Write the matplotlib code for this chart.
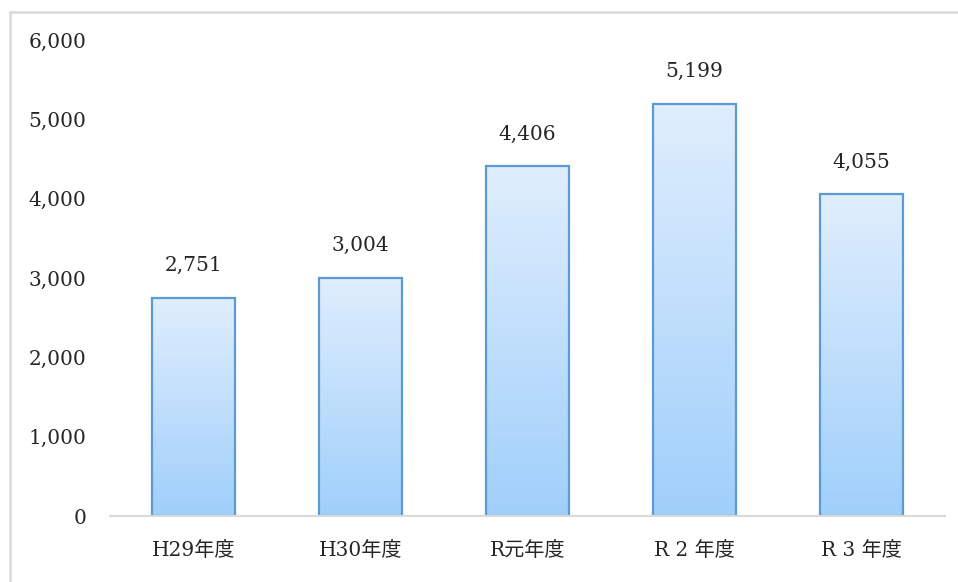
import numpy as np
import matplotlib.pyplot as plt
from matplotlib.patches import Rectangle
from matplotlib.colors import LinearSegmentedColormap

years = ['H29年度', 'H30年度', 'R元年度', 'R 2 年度', 'R 3 年度']
counts = [2751, 3004, 4406, 5199, 4055]
y_ticks = [0, 1000, 2000, 3000, 4000, 5000, 6000]

FONT = ['DejaVu Serif', 'Noto Sans CJK JP', 'DejaVu Sans']
plt.rcParams['font.family'] = FONT

W, H = 958, 582
fig = plt.figure(figsize=(W / 100, H / 100), dpi=100)
ax = fig.add_axes([110 / W, 1 - 516 / H, 835 / W, 476 / H])

# grey frame around the chart area (runs off the right and bottom)
fig.patches.append(Rectangle((10 / W, -0.1), 1.2, 1 - 12 / H + 0.1,
                             transform=fig.transFigure, fill=False,
                             edgecolor='#d9d9d9', linewidth=1.8))

grad = LinearSegmentedColormap.from_list('bar', ['#a0cffb', '#e0eefd'])
g = np.linspace(0, 1, 256).reshape(-1, 1)

x = np.arange(len(years))
bars = ax.bar(x, counts, width=0.5, facecolor='none', edgecolor='#5b9bd5',
              linewidth=1.6, zorder=3)
for b in bars:
    x0, w, h = b.get_x(), b.get_width(), b.get_height()
    im = ax.imshow(g, cmap=grad, origin='lower', aspect='auto',
                   extent=(x0, x0 + w, 0, h), zorder=2)
    im.set_clip_path(b)

for xi, v in zip(x, counts):
    ax.annotate(f'{v:,}', (xi, v), xytext=(0, 23), textcoords='offset points',
                ha='center', va='center', fontsize=14.5, color='#262626')

ax.set_xlim(-0.5, len(years) - 0.5)
ax.set_ylim(0, 6000)
ax.set_xticks(x)
ax.set_xticklabels(years, fontsize=14.5, color='#262626')
ax.set_yticks(y_ticks)
ax.set_yticklabels([f'{t:,}' for t in y_ticks], fontsize=14.5, color='#262626')
ax.tick_params(length=0)
ax.tick_params(axis='x', pad=18)
ax.tick_params(axis='y', pad=17)
for s in ['top', 'right', 'left']:
    ax.spines[s].set_visible(False)
ax.spines['bottom'].set_color('#d9d9d9')
ax.spines['bottom'].set_linewidth(1.5)
ax.spines['bottom'].set_zorder(4)

fig.savefig('out.png', dpi=100)
